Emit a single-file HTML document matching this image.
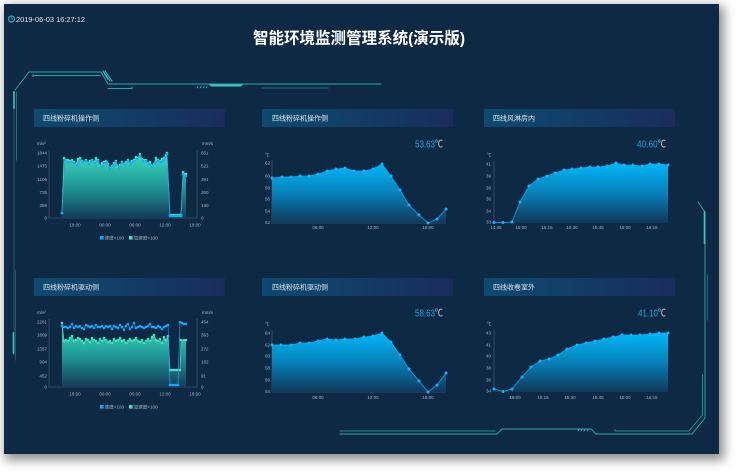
<!DOCTYPE html>
<html><head><meta charset="utf-8">
<style>
html,body{margin:0;padding:0;background:#fff;}
body{width:736px;height:472px;position:relative;overflow:hidden;font-family:"Liberation Sans","Noto Sans CJK SC",sans-serif;}
#panel{position:absolute;left:4px;top:4px;width:715px;height:450px;background:#0e2943;box-shadow:3px 4px 10px 2px rgba(0,0,0,0.45);}
svg{position:absolute;left:0;top:0;}
</style></head>
<body>
<div id="panel"></div>
<svg width="736" height="472" viewBox="0 0 736 472" xmlns="http://www.w3.org/2000/svg" font-family="Liberation Sans, Noto Sans CJK SC, sans-serif">
<defs>
  <linearGradient id="bar" x1="0" y1="0" x2="1" y2="0">
    <stop offset="0" stop-color="#0c4a70"/>
    <stop offset="0.6" stop-color="#143a64"/>
    <stop offset="1" stop-color="#1a2c5c"/>
  </linearGradient>
  <linearGradient id="gb" x1="0" y1="0" x2="0" y2="1">
    <stop offset="0" stop-color="#00b8f8"/>
    <stop offset="0.5" stop-color="#0780b8"/>
    <stop offset="1" stop-color="#10385a"/>
  </linearGradient>
  <linearGradient id="gg" x1="0" y1="0" x2="0" y2="1">
    <stop offset="0" stop-color="#3ddcbc"/>
    <stop offset="0.5" stop-color="#1f9a98"/>
    <stop offset="1" stop-color="#143c58"/>
  </linearGradient>
  <marker id="mb" markerWidth="4" markerHeight="4" refX="2" refY="2" markerUnits="userSpaceOnUse"><circle cx="2" cy="2" r="1.5" fill="#12b4ff"/></marker>
  <marker id="mbs" markerWidth="3" markerHeight="3" refX="1.5" refY="1.5" markerUnits="userSpaceOnUse"><circle cx="1.5" cy="1.5" r="1.3" fill="#10aaff"/></marker>
  <marker id="mg" markerWidth="3" markerHeight="3" refX="1.5" refY="1.5" markerUnits="userSpaceOnUse"><circle cx="1.5" cy="1.5" r="1.3" fill="#3ee3c2"/></marker>
</defs>

<!-- header -->
<circle cx="11.5" cy="19" r="3" fill="none" stroke="#3cc4e0" stroke-width="0.9"/>
<path d="M11.5 17.3V19H13" fill="none" stroke="#3cc4e0" stroke-width="0.7"/>
<text x="16" y="21.8" font-size="7.5" fill="#dfe6ee" textLength="69" lengthAdjust="spacingAndGlyphs">2019-06-03 16:27:12</text>
<text x="359" y="43.5" font-size="16" font-weight="bold" fill="#ffffff" text-anchor="middle" textLength="212" lengthAdjust="spacingAndGlyphs">智能环境监测管理系统(演示版)</text>

<!-- top-left frame -->
<g fill="none" stroke-linecap="square">
  <path d="M15 90 L29 72 L101 72 L108 84 L381 84" stroke="#2aa9b0" stroke-width="0.9"/>
  <path d="M33 75.5 L100 75.5" stroke="#3cc8c8" stroke-width="0.8"/>
  <path d="M33 74.5 V76.5" stroke="#3cc8c8" stroke-width="0.8"/>
  <path d="M103 71 L110 81 M105 71 L112 81 M104.5 74 L108 79" stroke="#3cc8c8" stroke-width="1"/>
  <path d="M108 88.5 L132 88.5 V87" stroke="#3cc8c8" stroke-width="0.8"/>
  <path d="M209 84.5 L243 84.5 L241 86.5 L211 86.5 Z" fill="#3cc8c8" stroke="none"/>
  <path d="M197 88 l1 -1.5 M200 88 l1 -1.5 M203 88 l1 -1.5 M206 88 l1 -1.5" stroke="#3cc8c8" stroke-width="0.8"/>
  <path d="M262 88 L328 88" stroke="#1f6577" stroke-width="1.2"/>
  <!-- left verticals -->
  <path d="M14 92 V355" stroke="#1d5d6d" stroke-width="1"/>
  <path d="M14 92 V108" stroke="#3cc8c8" stroke-width="1.6"/>
  <path d="M16.5 92 V160" stroke="#247a88" stroke-width="0.9"/>
  <path d="M13.5 333 V353" stroke="#3cc8c8" stroke-width="1.6"/>
  <path d="M15.5 270 V360" stroke="#1d5d6d" stroke-width="0.9"/>
  <!-- right frame -->
  <path d="M698 202 L705 212 V418 L692 434 L596 434 L591 429 L502 429 L497 434 L340 434" stroke="#2aa9b0" stroke-width="0.9"/>
  <path d="M340 431 L495 431" stroke="#2aa9b0" stroke-width="0.8"/>
  <path d="M704.5 212 V243" stroke="#3cc8c8" stroke-width="1.6"/>
  <path d="M707.5 275 V320" stroke="#1f6f7a" stroke-width="0.9"/>
  <path d="M702.5 375 V415 L689 431 L615 431 V429.5" stroke="#2aa9b0" stroke-width="0.8"/>
  <path d="M578 431 l1 -1.5 M581 431 l1 -1.5 M584 431 l1 -1.5 M587 431 l1 -1.5" stroke="#3cc8c8" stroke-width="0.8"/>
</g>

<!-- title bars -->
<g>
  <rect x="34" y="109" width="191" height="18" fill="url(#bar)"/>
  <rect x="262" y="109" width="191" height="18" fill="url(#bar)"/>
  <rect x="484" y="109" width="191" height="18" fill="url(#bar)"/>
  <rect x="34" y="278" width="191" height="18" fill="url(#bar)"/>
  <rect x="262" y="278" width="191" height="18" fill="url(#bar)"/>
  <rect x="484" y="278" width="191" height="18" fill="url(#bar)"/>
  <g font-size="7" fill="#dde6ee">
    <text x="43" y="120.5">四线粉碎机操作侧</text>
    <text x="272" y="120.5">四线粉碎机操作侧</text>
    <text x="493" y="120.5">四线风淋房内</text>
    <text x="43" y="289.5">四线粉碎机驱动侧</text>
    <text x="272" y="289.5">四线粉碎机驱动侧</text>
    <text x="493" y="289.5">四线收卷室外</text>
  </g>
</g>

<!-- ===== Chart 1 ===== -->
<g font-size="4.5" fill="#a6b3c3">
  <text x="37" y="145">m/s²</text>
  <text x="202" y="145">mm/s</text>
  <g text-anchor="end">
    <text x="47" y="154.6">1844</text><text x="47" y="167.6">1475</text><text x="47" y="181">1106</text>
    <text x="47" y="194">738</text><text x="47" y="207">369</text><text x="47" y="219.6">0</text>
  </g>
  <text x="201" y="154.6">651</text><text x="201" y="167.6">521</text><text x="201" y="181">391</text>
  <text x="201" y="194">260</text><text x="201" y="207">130</text><text x="201" y="219.6">0</text>
  <g text-anchor="middle">
    <text x="75" y="226.6">18:00</text><text x="105" y="226.6">00:00</text><text x="135" y="226.6">06:00</text>
    <text x="165" y="226.6">12:00</text><text x="195" y="226.6">18:00</text>
  </g>
</g>
<path d="M49 150 V218 H197 M197 150 V218" fill="none" stroke="#3d5470" stroke-width="0.8"/>
<path fill="url(#gg)" d="M62 218 L62 213 L64 158 L66 160 L68 160 L70 161 L72 160 L74 162 L76 164 L78 159 L80 158 L82 161 L84 162 L86 160 L88 163 L90 161 L92 160 L94 162 L96 158 L98 160 L100 166 L102 163 L104 162 L106 161 L108 164 L110 168 L112 166 L114 163 L116 161 L118 167 L120 165 L122 162 L124 164 L126 162 L128 160 L130 163 L132 161 L134 160 L136 157 L138 158 L140 154 L142 159 L144 160 L146 160 L148 163 L150 162 L152 166 L154 164 L156 158 L158 160 L160 161 L162 159 L164 158 L166 155 L167 153 L170 215 L181 215 L183 172 L185 174 L186 174 L186 218 Z"/>
<polyline fill="none" stroke="#3ee3c2" stroke-width="0.7" marker-start="url(#mg)" marker-mid="url(#mg)" marker-end="url(#mg)" points="62,213 64,158 66,160 68,160 70,161 72,160 74,162 76,164 78,159 80,158 82,161 84,162 86,160 88,163 90,161 92,160 94,162 96,158 98,160 100,166 102,163 104,162 106,161 108,164 110,168 112,166 114,163 116,161 118,167 120,165 122,162 124,164 126,162 128,160 130,163 132,161 134,160 136,157 138,158 140,154 142,159 144,160 146,160 148,163 150,162 152,166 154,164 156,158 158,160 160,161 162,159 164,158 166,155 167,153 170,215 172,215 174,215 176,215 178,215 180,215 181,215 183,172 185,174 186,174"/>
<polyline fill="none" stroke="#1a9fff" stroke-width="0.7" marker-start="url(#mbs)" marker-mid="url(#mbs)" marker-end="url(#mbs)" points="62,213 65,160 68,162 71,162 74,163 77,165 80,160 83,162 86,161 89,164 92,161 95,163 98,161 101,167 104,163 107,162 110,169 113,165 116,162 119,168 122,163 125,165 128,161 131,164 134,161 137,159 140,156 143,161 146,161 149,164 152,167 155,163 158,161 161,162 164,160 167,154 170,216 172,216 174,216 176,216 178,216 180,216 181,216 183,174 186,176"/>
<g font-size="4.6" fill="#a6b3c3">
  <rect x="100" y="236" width="3.6" height="3.6" fill="#12a6ff"/>
  <text x="104.5" y="239.6">速度×100</text>
  <rect x="129" y="236" width="3.6" height="3.6" fill="#3ee3c2"/>
  <text x="133.5" y="239.6">加速度×100</text>
</g>

<!-- ===== Chart 4 ===== -->
<g font-size="4.5" fill="#a6b3c3">
  <text x="37" y="314">m/s²</text>
  <text x="202" y="314">mm/s</text>
  <g text-anchor="end">
    <text x="47" y="323.6">2261</text><text x="47" y="336.6">1809</text><text x="47" y="350.6">1357</text>
    <text x="47" y="363.6">904</text><text x="47" y="377.6">452</text><text x="47" y="388.6">0</text>
  </g>
  <text x="201" y="323.6">454</text><text x="201" y="336.6">363</text><text x="201" y="350.6">272</text>
  <text x="201" y="363.6">182</text><text x="201" y="377.6">91</text><text x="201" y="388.6">0</text>
  <g text-anchor="middle">
    <text x="75" y="395.6">18:00</text><text x="105" y="395.6">00:00</text><text x="135" y="395.6">06:00</text>
    <text x="165" y="395.6">12:00</text><text x="195" y="395.6">18:00</text>
  </g>
</g>
<path d="M49 319 V387 H197 M197 319 V387" fill="none" stroke="#3d5470" stroke-width="0.8"/>
<path fill="url(#gg)" d="M62 387 L62 323 L64 341 L66 340 L68 341 L70 338 L72 336 L74 341 L76 340 L78 338 L80 339 L82 341 L84 343 L86 339 L88 340 L90 342 L92 338 L94 340 L96 341 L98 343 L100 339 L102 341 L104 338 L106 340 L108 342 L110 341 L112 343 L114 339 L116 341 L118 340 L120 338 L122 341 L124 340 L126 343 L128 341 L130 339 L132 341 L134 340 L136 338 L138 341 L140 342 L142 340 L144 343 L146 341 L148 339 L150 341 L152 337 L154 335 L156 340 L158 341 L160 339 L162 343 L164 337 L166 340 L168 336 L170 370 L180 370 L181 340 L186 340 L186 387 Z"/>
<polyline fill="none" stroke="#3ee3c2" stroke-width="0.7" marker-start="url(#mg)" marker-mid="url(#mg)" marker-end="url(#mg)" points="62,323 64,341 66,340 68,341 70,338 72,336 74,341 76,340 78,338 80,339 82,341 84,343 86,339 88,340 90,342 92,338 94,340 96,341 98,343 100,339 102,341 104,338 106,340 108,342 110,341 112,343 114,339 116,341 118,340 120,338 122,341 124,340 126,343 128,341 130,339 132,341 134,340 136,338 138,341 140,342 142,340 144,343 146,341 148,339 150,341 152,337 154,335 156,340 158,341 160,339 162,343 164,337 166,340 168,336 170,370 172,370 174,370 176,370 178,370 180,370 181,340 184,340 186,340"/>
<polyline fill="none" stroke="#1a9fff" stroke-width="0.7" marker-start="url(#mbs)" marker-mid="url(#mbs)" marker-end="url(#mbs)" points="62,326 64,327 66,327 68,328 70,327 72,324 74,328 76,326 78,327 80,326 82,328 84,329 86,325 88,326 90,327 92,326 94,328 96,325 98,327 100,327 102,326 104,328 106,326 108,327 110,326 112,329 114,326 116,327 118,328 120,325 122,327 124,330 126,326 128,324 130,329 132,327 134,323 136,328 138,327 140,326 142,327 144,328 146,327 148,326 150,324 152,327 154,327 156,328 158,326 160,327 162,329 164,327 166,326 168,325 170,385 172,385 174,385 176,385 178,385 180,322 182,323 184,324 186,324"/>
<g font-size="4.6" fill="#a6b3c3">
  <rect x="100" y="405" width="3.6" height="3.6" fill="#12a6ff"/>
  <text x="104.5" y="408.6">速度×100</text>
  <rect x="129" y="405" width="3.6" height="3.6" fill="#3ee3c2"/>
  <text x="133.5" y="408.6">加速度×100</text>
</g>

<!-- ===== Chart 2 ===== -->
<text x="443" y="147.5" font-size="10" text-anchor="end" textLength="28" lengthAdjust="spacingAndGlyphs"><tspan fill="#1ba6e8">53.63</tspan><tspan fill="#c8d0d8">℃</tspan></text>
<g font-size="4.5" fill="#a6b3c3">
  <text x="265" y="156.5">℃</text>
  <g text-anchor="end">
    <text x="270" y="164.6">62</text><text x="270" y="177.6">60</text><text x="270" y="189.6">58</text>
    <text x="270" y="200.6">56</text><text x="270" y="212.6">54</text><text x="270" y="224.2">52</text>
  </g>
  <g text-anchor="middle">
    <text x="318" y="229">06:00</text><text x="373" y="229">12:00</text><text x="428" y="229">15:00</text>
  </g>
</g>
<path d="M272 160 V223 H446" fill="none" stroke="#3d5470" stroke-width="0.8"/>
<path fill="url(#gb)" d="M272 223 L272 178 L282 177 L291 177 L300 176 L309 176 L318 174 L327 171 L336 169 L345 168 L354 171 L364 171 L373 169 L382 164 L391 176 L400 190 L409 205 L419 215 L428 223 L437 219 L446 209 L446 223 Z"/>
<polyline fill="none" stroke="#0aa8f0" stroke-width="0.8" marker-start="url(#mb)" marker-mid="url(#mb)" marker-end="url(#mb)" points="272,178 282,177 291,177 300,176 309,176 318,174 327,171 336,169 345,168 354,171 364,171 373,169 382,164 391,176 400,190 409,205 419,215 428,223 437,219 446,209"/>

<!-- ===== Chart 5 ===== -->
<text x="443" y="316.5" font-size="10" text-anchor="end" textLength="28" lengthAdjust="spacingAndGlyphs"><tspan fill="#1ba6e8">58.63</tspan><tspan fill="#c8d0d8">℃</tspan></text>
<g font-size="4.5" fill="#a6b3c3">
  <text x="265" y="325.5">℃</text>
  <g text-anchor="end">
    <text x="270" y="334.6">64</text><text x="270" y="346.6">62</text><text x="270" y="357.6">60</text>
    <text x="270" y="369.6">58</text><text x="270" y="381.6">56</text><text x="270" y="393.2">54</text>
  </g>
  <g text-anchor="middle">
    <text x="318" y="399">06:00</text><text x="373" y="399">12:00</text><text x="428" y="399">15:00</text>
  </g>
</g>
<path d="M272 330 V392 H446" fill="none" stroke="#3d5470" stroke-width="0.8"/>
<path fill="url(#gb)" d="M272 392 L272 345 L281 345 L291 345 L300 343 L309 343 L318 341 L327 339 L336 340 L345 339 L355 339 L364 337 L373 336 L382 333 L391 342 L400 355 L409 369 L419 381 L428 392 L437 385 L446 373 L446 392 Z"/>
<polyline fill="none" stroke="#0aa8f0" stroke-width="0.8" marker-start="url(#mb)" marker-mid="url(#mb)" marker-end="url(#mb)" points="272,345 281,345 291,345 300,343 309,343 318,341 327,339 336,340 345,339 355,339 364,337 373,336 382,333 391,342 400,355 409,369 419,381 428,392 437,385 446,373"/>

<!-- ===== Chart 3 ===== -->
<text x="666" y="147.5" font-size="10" text-anchor="end" textLength="29" lengthAdjust="spacingAndGlyphs"><tspan fill="#1ba6e8">40.60</tspan><tspan fill="#c8d0d8">℃</tspan></text>
<g font-size="4.5" fill="#a6b3c3">
  <text x="487" y="156.5">℃</text>
  <g text-anchor="end">
    <text x="491" y="165.6">41</text><text x="491" y="177.6">39</text><text x="491" y="189.6">38</text>
    <text x="491" y="200.6">36</text><text x="491" y="212.6">34</text><text x="491" y="223.6">33</text>
  </g>
  <g text-anchor="middle">
    <text x="496" y="229">14:45</text><text x="521" y="229">15:00</text><text x="547" y="229">15:15</text>
    <text x="572" y="229">15:30</text><text x="598" y="229">15:45</text><text x="625" y="229">16:00</text><text x="652" y="229">16:15</text>
  </g>
</g>
<path d="M494 161 V222.5 H668" fill="none" stroke="#3d5470" stroke-width="0.8"/>
<path fill="url(#gb)" d="M494 223 L494 223 L503 223 L512 222 L520 202 L529 186 L538 179 L547 176 L555 173 L564 170 L572 169 L581 168 L590 167 L598 167 L607 166 L616 163 L624 165 L633 165 L642 166 L650 164 L659 164 L668 165 L668 223 Z"/>
<polyline fill="none" stroke="#0aa8f0" stroke-width="0.8" marker-start="url(#mb)" marker-mid="url(#mb)" marker-end="url(#mb)" points="494,222.5 503,222.5 512,222 520,202 529,186 538,179 547,176 555,173 564,170 572,169 581,168 590,167 598,167 607,166 616,163 624,165 633,165 642,166 650,164 659,164 668,165"/>

<!-- ===== Chart 6 ===== -->
<text x="666" y="316.5" font-size="10" text-anchor="end" textLength="28" lengthAdjust="spacingAndGlyphs"><tspan fill="#1ba6e8">41.10</tspan><tspan fill="#c8d0d8">℃</tspan></text>
<g font-size="4.5" fill="#a6b3c3">
  <text x="487" y="325.5">℃</text>
  <g text-anchor="end">
    <text x="491" y="334.6">43</text><text x="491" y="346.6">41</text><text x="491" y="357.6">40</text>
    <text x="491" y="369.6">38</text><text x="491" y="381.6">36</text><text x="491" y="392.6">34</text>
  </g>
  <g text-anchor="middle">
    <text x="515" y="399">15:00</text><text x="543" y="399">15:15</text><text x="570" y="399">15:30</text>
    <text x="598" y="399">15:45</text><text x="625" y="399">16:00</text><text x="652" y="399">16:15</text>
  </g>
</g>
<path d="M494 330 V391.5 H668" fill="none" stroke="#3d5470" stroke-width="0.8"/>
<path fill="url(#gb)" d="M494 392 L494 389 L503 392 L512 389 L522 377 L531 367 L540 361 L549 359 L558 355 L567 349 L577 345 L586 343 L595 341 L604 339 L613 337 L622 335 L631 335 L640 335 L650 334 L659 333 L668 333 L668 392 Z"/>
<polyline fill="none" stroke="#0aa8f0" stroke-width="0.8" marker-start="url(#mb)" marker-mid="url(#mb)" marker-end="url(#mb)" points="494,389 503,391.5 512,389 522,377 531,367 540,361 549,359 558,355 567,349 577,345 586,343 595,341 604,339 613,337 622,335 631,335 640,335 650,334 659,333 668,333"/>
</svg>
</body></html>
